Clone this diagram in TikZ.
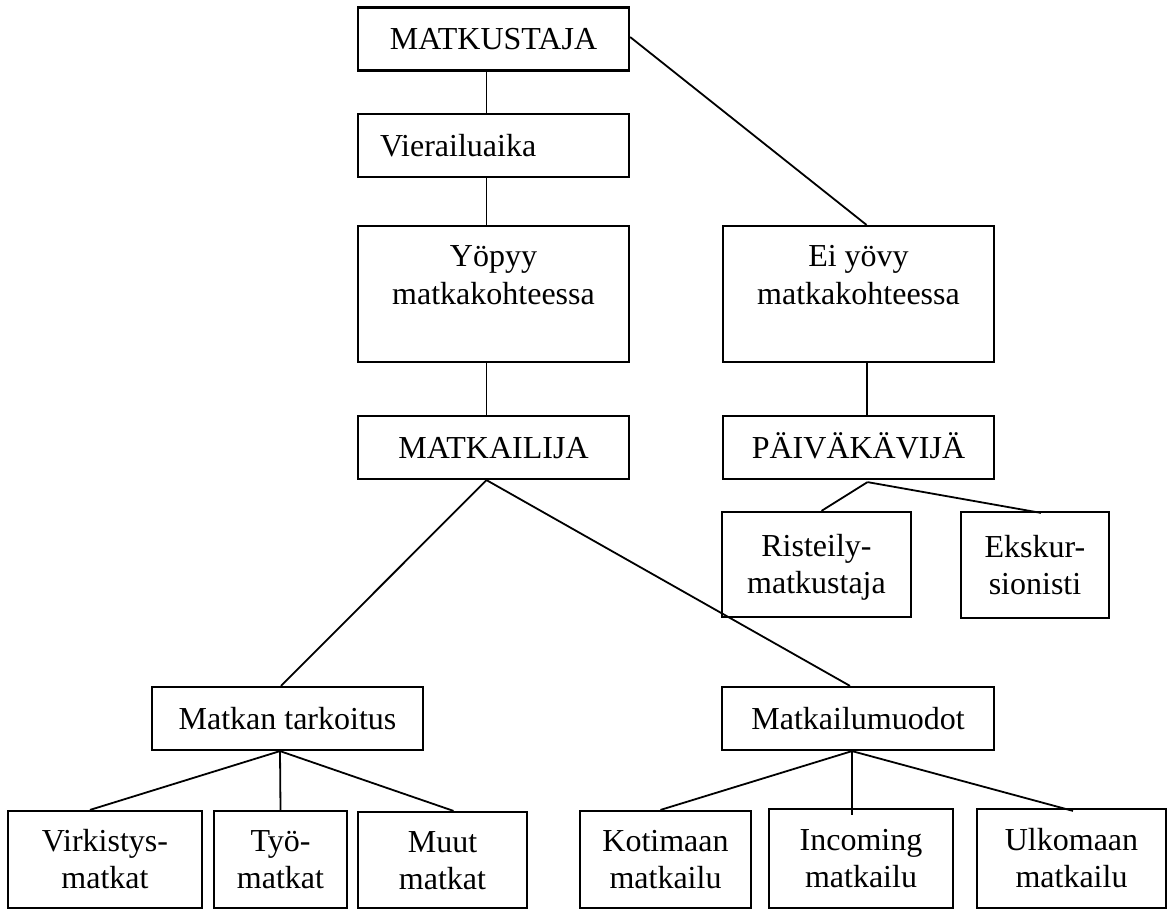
\documentclass[tikz,border=0pt]{standalone}
\usepackage{fontspec}
\setmainfont{Liberation Serif}
\usetikzlibrary{positioning}
\tikzset{
  box/.style={draw,line width=2.2pt,inner sep=0pt,align=center,
    minimum width=271pt,minimum height=63pt,text height=21.5pt,text depth=0pt},
  twoline/.style={box,text height=58.5pt},
  tallbox/.style={box,minimum height=136pt,text height=78pt,text depth=58pt},
  leafbox/.style={twoline,minimum height=97pt},
  link/.style={line width=1.8pt}
}
\begin{document}
\begin{tikzpicture}[x=1pt,y=-1pt,font=\fontsize{32}{37}\selectfont]
  \useasboundingbox (0,0) rectangle (1173,912);
  %
  % Left branch
  \node[box] (matkustaja) at (493.5,39) {MATKUSTAJA};
  \node[box,align=left,text width=227pt,inner xsep=22pt] (vierailu) at (493.5,145.5) {Vierailuaika};
  \node[tallbox] (yopyy) at (493.5,294) {Yöpyy\\matkakohteessa};
  \node[box] (matkailija) at (493.5,447.5) {MATKAILIJA};
  %
  % Right branch
  \node[tallbox] (eiyovy) at (858.5,294) {Ei yövy\\matkakohteessa};
  \node[box] (paivakavija) at (858.5,447.5) {PÄIVÄKÄVIJÄ};
  \node[twoline,minimum width=189pt,minimum height=105pt] (risteily) at (816.5,564.5) {Risteily-\\matkustaja};
  \node[twoline,minimum width=148pt,minimum height=106pt] (ekskur) at (1035,565) {Ekskur-\\sionisti};
  %
  % Purpose and forms
  \node[box] (tarkoitus) at (287.5,718.5) {Matkan tarkoitus};
  \node[box,minimum width=272pt] (muodot) at (858,718.5) {Matkailumuodot};
  \node[leafbox,minimum width=194pt] (virkistys) at (105,859.5) {Virkistys-\\matkat};
  \node[leafbox,minimum width=133pt] (tyo) at (280.5,859.5) {Työ-\\matkat};
  \node[leafbox,minimum width=169pt,minimum height=96pt] (muut) at (442.5,860) {Muut\\matkat};
  \node[leafbox,minimum width=171pt] (kotimaan) at (665.5,859.5) {Kotimaan\\matkailu};
  \node[leafbox,minimum width=184pt,minimum height=99pt] (incoming) at (861,858.5) {Incoming\\matkailu};
  \node[leafbox,minimum width=189pt,minimum height=99pt] (ulkomaan) at (1071.5,858.5) {Ulkomaan\\matkailu};
  %
  % Connectors
  \draw[link] ([xshift=-7pt]matkustaja.south) -- ([xshift=-7pt]vierailu.north);
  \draw[link] ([xshift=-7pt]vierailu.south) -- ([xshift=-7pt]yopyy.north);
  \draw[link] ([xshift=-7pt]yopyy.south) -- ([xshift=-7pt]matkailija.north);
  \draw[link] ([yshift=2pt]matkustaja.east) -- ([xshift=8pt]eiyovy.north);
  \draw[link] ([xshift=8.5pt]eiyovy.south) -- ([xshift=8.5pt]paivakavija.north);
  \draw[link] ([xshift=9pt,yshift=-2pt]paivakavija.south) -- ([xshift=5pt]risteily.north);
  \draw[link] ([xshift=9pt,yshift=-2pt]paivakavija.south) -- ([xshift=6pt,yshift=-2pt]ekskur.north);
  \draw[link] ([xshift=-7pt]matkailija.south) -- ([xshift=-6.5pt]tarkoitus.north);
  \draw[link] ([xshift=-7pt]matkailija.south) -- ([xshift=-8pt]muodot.north);
  \draw[link] ([xshift=-7.5pt]tarkoitus.south) -- ([xshift=-15pt]virkistys.north);
  \draw[link] ([xshift=-7.5pt]tarkoitus.south) -- (tyo.north);
  \draw[link] ([xshift=-7.5pt]tarkoitus.south) -- ([xshift=11pt]muut.north);
  \draw[link] ([xshift=-6pt]muodot.south) -- ([xshift=-5pt]kotimaan.north);
  \draw[link] ([xshift=-6pt]muodot.south) -- ([xshift=-9pt,yshift=-7pt]incoming.north);
  \draw[link] ([xshift=-6pt]muodot.south) -- ([xshift=1.5pt,yshift=-3pt]ulkomaan.north);
  %
\end{tikzpicture}
\end{document}
